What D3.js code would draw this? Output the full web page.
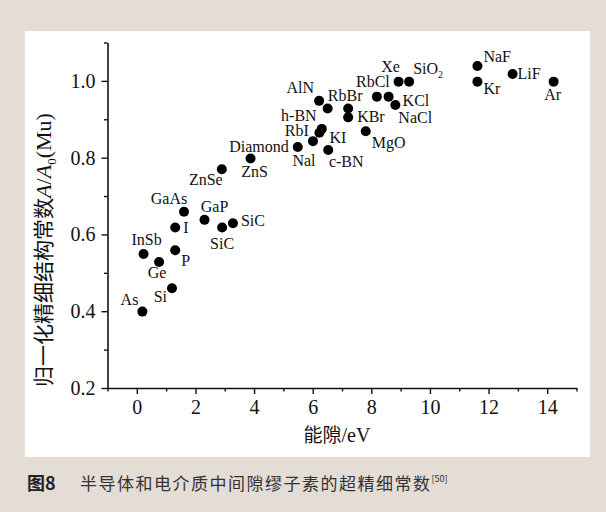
<!DOCTYPE html>
<html>
<head>
<meta charset="utf-8">
<script src="https://cdn.jsdelivr.net/npm/d3@7"></script>
<style>
  html, body { margin: 0; padding: 0; background: #e4ddd6; }
  svg { display: block; }
</style>
</head>
<body>
<svg id="chart" width="606" height="512"></svg>
<script>
// Materials, band gap (eV) and normalized hyperfine constant A/A0
const materials = ["As", "Si", "Ge", "InSb", "P", "I", "GaAs", "GaP", "SiC", "SiC",
  "ZnSe", "ZnS", "Diamond", "Nal", "RbI", "KI", "c-BN", "MgO", "h-BN", "AlN",
  "RbBr", "KBr", "RbCl", "KCl", "NaCl", "Xe", "SiO2", "NaF", "Kr", "LiF", "Ar"];
const bandGap = [0.19, 1.20, 0.76, 0.23, 1.31, 1.31, 1.61, 2.31, 2.91, 3.28,
  2.90, 3.88, 5.49, 6.01, 6.31, 6.23, 6.53, 7.81, 6.51, 6.22,
  7.21, 7.21, 8.19, 8.59, 8.82, 8.93, 9.29, 11.62, 11.62, 12.82, 14.22];
const hyperfine = [0.399, 0.460, 0.528, 0.549, 0.559, 0.618, 0.659, 0.638, 0.618, 0.629,
  0.770, 0.798, 0.828, 0.843, 0.875, 0.865, 0.820, 0.869, 0.928, 0.948,
  0.928, 0.905, 0.959, 0.959, 0.937, 0.998, 0.998, 1.039, 0.998, 1.018, 0.998];

const xMajorTicks = [0, 2, 4, 6, 8, 10, 12, 14];
const xMinorTicks = [-1, 1, 3, 5, 7, 9, 11, 13, 15];
const yMajorTicks = [0.2, 0.4, 0.6, 0.8, 1.0];
const yMinorTicks = [0.3, 0.5, 0.7, 0.9, 1.1];

// label placement around each dot: [dx, dy, anchor]
const labelPlacement = [
  [-4, -7, "end"], [-5, 14, "end"], [-2, 16, "middle"], [3, -9, "middle"], [6, 16, "start"],
  [8, 5, "start"], [-15, -8, "middle"], [10, -8, "middle"], [0, 21, "middle"], [8, 3, "start"],
  [-16, 16, "middle"], [4, 19, "middle"], [-9, 5, "end"], [-9, 25, "middle"], [-13, 7, "end"],
  [10, 10, "start"], [18, 17, "middle"], [6, 17, "start"], [-11, 12, "end"], [-5, -8, "end"],
  [-3, -8, "middle"], [9, 5, "start"], [-4, -10, "middle"], [14, 9, "start"], [3, 18, "start"],
  [-8, -10, "middle"], [4, -8, "start"], [6, -4, "start"], [6, 12, "start"], [5, 5, "start"],
  [-1, 18, "middle"]
];

const svg = d3.select("#chart");
const W = 606, H = 512;

svg.append("rect").attr("width", W).attr("height", H).attr("fill", "#e4ddd6");
svg.append("rect").attr("x", 25).attr("y", 31).attr("width", 565).attr("height", 426).attr("fill", "#ffffff");

const x = d3.scaleLinear().domain([-1, 15]).range([107.5, 576.5]);
const y = d3.scaleLinear().domain([0.2, 1.1]).range([388, 42.5]);

const serif = "'Liberation Serif', 'Times New Roman', serif";
const cjk = "'Noto Sans CJK SC', sans-serif";

// x axis: major ticks with labels, minor ticks without
const xAxisG = svg.append("g").attr("transform", `translate(0,${y(0.2)})`);
xAxisG.call(d3.axisBottom(x).tickValues(xMajorTicks).tickSize(6).tickSizeOuter(0).tickPadding(6).tickFormat(d3.format("d")));
xAxisG.append("g").call(d3.axisBottom(x).tickValues(xMinorTicks).tickSize(3.5).tickSizeOuter(0).tickFormat(""))
  .select(".domain").remove();

// y axis
const yAxisG = svg.append("g").attr("transform", `translate(${x(-1)},0)`);
yAxisG.call(d3.axisLeft(y).tickValues(yMajorTicks).tickSize(6).tickSizeOuter(0).tickPadding(6).tickFormat(d3.format(".1f")));
yAxisG.append("g").call(d3.axisLeft(y).tickValues(yMinorTicks).tickSize(3.5).tickSizeOuter(0).tickFormat(""))
  .select(".domain").remove();

svg.selectAll(".domain").attr("stroke", "#111").attr("stroke-width", 1.6);
svg.selectAll(".tick line").attr("stroke", "#111").attr("stroke-width", 1.4);
svg.selectAll(".tick text").attr("font-family", serif).attr("font-size", 20).attr("fill", "#111");

// data points
const pts = materials.map((m, i) => ({ name: m, gap: bandGap[i], a: hyperfine[i], place: labelPlacement[i] }));

svg.append("g").selectAll("circle").data(pts).join("circle")
  .attr("cx", d => x(d.gap)).attr("cy", d => y(d.a)).attr("r", 5).attr("fill", "#000");

const labels = svg.append("g").selectAll("text").data(pts).join("text")
  .attr("x", d => x(d.gap) + d.place[0])
  .attr("y", d => y(d.a) + d.place[1])
  .attr("text-anchor", d => d.place[2])
  .attr("font-family", serif).attr("font-size", 16).attr("fill", "#111");

labels.each(function (d) {
  const t = d3.select(this);
  if (d.name === "SiO2") {
    t.append("tspan").text("SiO");
    t.append("tspan").attr("font-size", 10).attr("dy", 4).text("2");
  } else {
    t.text(d.name);
  }
});

// axis titles
const xt = svg.append("text").attr("x", 337).attr("y", 442).attr("text-anchor", "middle").attr("fill", "#111");
xt.append("tspan").attr("font-family", cjk).attr("font-size", 19).text("能隙");
xt.append("tspan").attr("font-family", serif).attr("font-size", 20).text("/eV");

const yt = svg.append("text").attr("transform", "translate(51,250) rotate(-90)").attr("text-anchor", "middle").attr("fill", "#111");
yt.append("tspan").attr("font-family", cjk).attr("font-size", 21).text("归一化精细结构常数");
yt.append("tspan").attr("font-family", serif).attr("font-size", 22).attr("font-style", "italic").text("A");
yt.append("tspan").attr("font-family", serif).attr("font-size", 22).text("/");
yt.append("tspan").attr("font-family", serif).attr("font-size", 22).attr("font-style", "italic").text("A");
yt.append("tspan").attr("font-family", serif).attr("font-size", 13).attr("dy", 5).text("0");
yt.append("tspan").attr("font-family", serif).attr("font-size", 22).attr("dy", -5).text("(Mu)");

// caption
const cap = svg.append("text").attr("x", 27).attr("y", 490).attr("font-family", cjk).attr("fill", "#333");
cap.append("tspan").attr("font-size", 18).attr("font-weight", "bold").attr("fill", "#222").text("图8");
cap.append("tspan").attr("x", 80).attr("font-size", 17).attr("letter-spacing", 1.5).text("半导体和电介质中间隙缪子素的超精细常数");
cap.append("tspan").attr("font-size", 9).attr("dy", -8).text("[50]");
</script>
</body>
</html>
